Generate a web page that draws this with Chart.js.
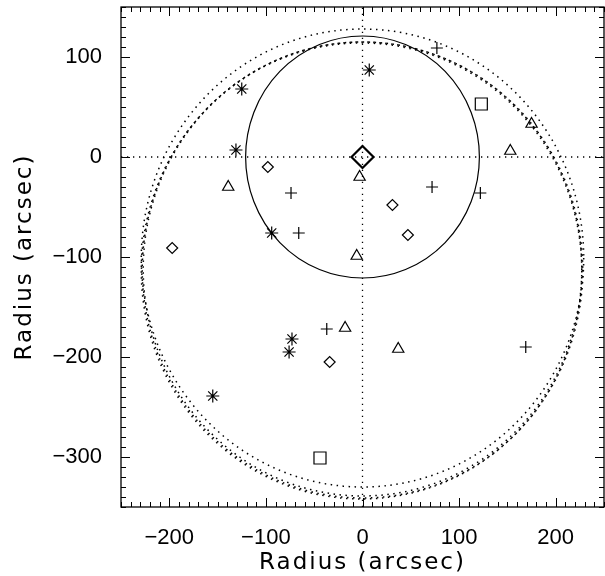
<!DOCTYPE html>
<html>
<head>
<meta charset="utf-8">
<script src="https://cdn.jsdelivr.net/npm/chart.js@4.4.1/dist/chart.umd.min.js"></script>
<style>
  html, body { margin: 0; padding: 0; background: #fff; }
  canvas { display: block; }
</style>
</head>
<body>
<canvas id="radiusChart" width="605" height="576"></canvas>
<script>
// axis ranges and labelled ticks
const xRange = [-250, 250];
const yRange = [-350, 150];
const xTicks = [-200, -100, 0, 100, 200];
const yTicks = [-300, -200, -100, 0, 100];

// marker positions (arcsec)
const starX = [-125, -131, 7, -94, -73, -76, -155];
const starY = [68, 7, 87, -76, -182, -195, -239];
const plusX = [77, -74, 72, 122, -66, -37, 169];
const plusY = [109, -36, -30, -36, -76, -172, -190];
const triX = [-139, -3, 153, 175, -6, -18, 37];
const triY = [-30, -20, 6, 33, -99, -171, -192];
const diamondX = [-98, 31, 47, -197, -34];
const diamondY = [-10, -48, -78, -91, -205];
const squareX = [123, -44];
const squareY = [53, -301];
const centreX = [0];
const centreY = [0];

// circles: solid field of view and dotted rings
const fovX = [0];
const fovY = [0];
const fovR = [121];
const ringX = [0, 0, 0, -1];
const ringY = [-101, -112, -113, -114];
const ringR = [229, 227, 228, 228];

const pts = (xs, ys) => xs.map((v, i) => ({x: v, y: ys[i]}));
const minus = v => String(v).replace('-', '\u2212');

const marker = (data, style, r, w) => ({
  data: pts(data[0], data[1]),
  pointStyle: style,
  pointRadius: r,
  pointBorderWidth: w || 1.2,
  pointBorderColor: '#000',
  pointBackgroundColor: 'rgba(0,0,0,0)',
  showLine: false
});

const hair = (data) => ({
  data: data,
  showLine: true,
  pointRadius: 0,
  borderColor: '#000',
  borderWidth: 1.3,
  borderDash: [1.3, 4.7]
});

// no extra room for end labels, the box is fixed
const noPad = s => {
  s.paddingLeft = 0; s.paddingRight = 0; s.paddingTop = 0; s.paddingBottom = 0;
};

// circles, tick marks and the box
const decor = {
  id: 'decor',
  afterLayout(chart) {
    // wider spacing in axis titles, like the original plot font
    Object.values(chart.scales).forEach(s => {
      if (s._spaced) return;
      const draw = s.drawTitle;
      s.drawTitle = function () {
        this.ctx.save();
        this.ctx.letterSpacing = '2px';
        draw.apply(this, arguments);
        this.ctx.restore();
      };
      s._spaced = true;
    });
  },
  beforeDatasetsDraw(chart) {
    const {ctx, chartArea: a, scales: {x, y}} = chart;
    const kx = Math.abs(x.getPixelForValue(1) - x.getPixelForValue(0));
    const ky = Math.abs(y.getPixelForValue(1) - y.getPixelForValue(0));
    ctx.save();
    ctx.beginPath();
    ctx.rect(a.left, a.top, a.right - a.left, a.bottom - a.top);
    ctx.clip();
    ctx.strokeStyle = '#000';
    ctx.lineWidth = 1.2;
    fovR.forEach((r, i) => {
      ctx.beginPath();
      ctx.ellipse(x.getPixelForValue(fovX[i]), y.getPixelForValue(fovY[i]), r * kx, r * ky, 0, 0, Math.PI * 2);
      ctx.stroke();
    });
    ctx.setLineDash([1.5, 4.5]);
    ctx.lineWidth = 1.5;
    ringR.forEach((r, i) => {
      ctx.beginPath();
      ctx.ellipse(x.getPixelForValue(ringX[i]), y.getPixelForValue(ringY[i]), r * kx, r * ky, 0, 0, Math.PI * 2);
      ctx.stroke();
    });
    ctx.restore();
  },
  afterDraw(chart) {
    const {ctx, chartArea: a, scales: {x, y}} = chart;
    ctx.save();
    ctx.strokeStyle = '#000';
    ctx.lineWidth = 1;
    ctx.beginPath();
    for (let v = xRange[0]; v <= xRange[1]; v += 10) {
      const px = Math.round(x.getPixelForValue(v)) + 0.5;
      const len = v % 100 === 0 ? 9 : 5;
      ctx.moveTo(px, a.bottom); ctx.lineTo(px, a.bottom - len);
      ctx.moveTo(px, a.top); ctx.lineTo(px, a.top + len);
    }
    for (let v = yRange[0]; v <= yRange[1]; v += 10) {
      const py = Math.round(y.getPixelForValue(v)) + 0.5;
      const len = v % 100 === 0 ? 9 : 5;
      ctx.moveTo(a.left, py); ctx.lineTo(a.left + len, py);
      ctx.moveTo(a.right, py); ctx.lineTo(a.right - len, py);
    }
    ctx.stroke();
    ctx.lineWidth = 1.3;
    ctx.strokeRect(a.left, a.top, a.right - a.left, a.bottom - a.top);
    ctx.restore();
  }
};

const tickFont = {family: "'Liberation Sans', Arial, sans-serif", size: 22};
const titleFont = {family: "'DejaVu Sans', sans-serif", size: 23};

new Chart(document.getElementById('radiusChart'), {
  type: 'scatter',
  data: {
    datasets: [
      hair([{x: 0, y: yRange[0]}, {x: 0, y: yRange[1]}]),
      hair([{x: xRange[0], y: 0}, {x: xRange[1], y: 0}]),
      marker([starX, starY], 'star', 6.5),
      marker([plusX, plusY], 'cross', 6),
      marker([triX, triY], 'triangle', 6.5),
      marker([diamondX, diamondY], 'rectRot', 5.5),
      marker([squareX, squareY], 'rect', 8.5),
      marker([centreX, centreY], 'rectRot', 11, 2.2)
    ]
  },
  options: {
    responsive: false,
    animation: false,
    devicePixelRatio: 1,
    layout: {autoPadding: false, padding: {top: 7, right: 1, left: 0, bottom: 0}},
    plugins: {
      legend: {display: false},
      tooltip: {enabled: false}
    },
    scales: {
      x: {
        type: 'linear',
        min: xRange[0],
        max: xRange[1],
        afterBuildTicks: s => { s.ticks = xTicks.map(v => ({value: v})); },
        afterFit: s => { s.height = 69; noPad(s); },
        grid: {display: false},
        border: {display: false},
        ticks: {callback: minus, font: tickFont, color: '#000', padding: 10, maxRotation: 0, autoSkip: false},
        title: {display: true, text: 'Radius (arcsec)', font: titleFont, color: '#000', padding: {top: 0, bottom: -1}}
      },
      y: {
        type: 'linear',
        min: yRange[0],
        max: yRange[1],
        afterBuildTicks: s => { s.ticks = yTicks.map(v => ({value: v})); },
        afterFit: s => { s.width = 121; noPad(s); },
        grid: {display: false},
        border: {display: false},
        ticks: {callback: minus, font: tickFont, color: '#000', padding: 11, autoSkip: false},
        title: {display: true, text: 'Radius (arcsec)', font: titleFont, color: '#000', padding: {top: 11, bottom: 0}}
      }
    }
  },
  plugins: [decor]
});
</script>
</body>
</html>
